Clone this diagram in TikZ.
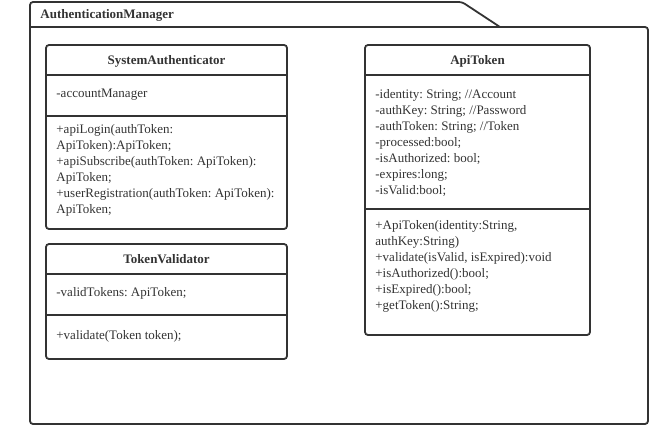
\documentclass[tikz,border=0pt]{standalone}
\usepackage{fontspec}
\setmainfont{Liberation Serif}
\usepackage{tikz}
\usepackage{xcolor}
\usetikzlibrary{positioning}
\definecolor{umlgray}{RGB}{51, 51, 51}
\frenchspacing

\begin{document}
\begin{tikzpicture}[x=1pt,y=-1pt,line width=1.8pt,draw=umlgray,
        every node/.style={inner sep=0pt,text=umlgray,font=\fontsize{13}{16}\selectfont},
        classname/.style={anchor=base,font=\bfseries\fontsize{13}{16}\selectfont},
        members/.style={anchor=north west,align=left}]
        \useasboundingbox (0,0) rectangle (660,431);

        % Package
        \draw[rounded corners=3pt] (500,27) -- (462,2) -- (30,2) -- (30,424) -- (648,424) -- (648,27) -- (500,27);
        \draw (30,27) -- (500,27);
        \node[anchor=base west,font=\bfseries\fontsize{13}{16}\selectfont] (pkgName) at (39.5,18) {AuthenticationManager};

        % SystemAuthenticator
        \draw[rounded corners=3pt] (46,45) rectangle (287,229);
        \draw (46,75) -- (287,75);
        \draw (46,116) -- (287,116);
        \node[classname] (saName) at (166.5,64) {SystemAuthenticator};
        \node[members] (saAttr) at (55.5,88) {-accountManager};
        \node[members] (saOps) at (55.5,124) {+apiLogin(authToken:\\ApiToken):ApiToken;\\+apiSubscribe(authToken: ApiToken):\\ApiToken;\\+userRegistration(authToken: ApiToken):\\ApiToken;};

        % TokenValidator
        \draw[rounded corners=3pt] (46,244) rectangle (287,359);
        \draw (46,274) -- (287,274);
        \draw (46,315) -- (287,315);
        \node[classname] (tvName) at (166.5,263) {TokenValidator};
        \node[members] (tvAttr) at (55.5,287) {-validTokens: ApiToken;};
        \node[members] (tvOps) at (55.5,330) {+validate(Token token);};

        % ApiToken
        \draw[rounded corners=3pt] (365,45) rectangle (590,335);
        \draw (365,75) -- (590,75);
        \draw (365,209) -- (590,209);
        \node[classname] (atName) at (477.5,64) {ApiToken};
        \node[members] (atAttr) at (374.5,89) {-identity: String; //Account\\-authKey: String; //Password\\-authToken: String; //Token\\-processed:bool;\\-isAuthorized: bool;\\-expires:long;\\-isValid:bool;};
        \node[members] (atOps) at (374.5,220) {+ApiToken(identity:String,\\authKey:String)\\+validate(isValid, isExpired):void\\+isAuthorized():bool;\\+isExpired():bool;\\+getToken():String;};
    \end{tikzpicture}
\end{document}
